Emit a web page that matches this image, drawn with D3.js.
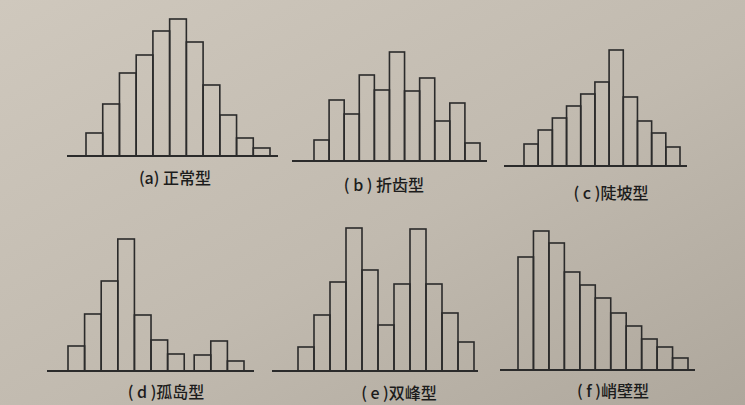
<!DOCTYPE html>
<html>
<head>
<meta charset="utf-8">
<script src="https://cdn.jsdelivr.net/npm/d3@7"></script>
<style>
    body { margin: 0; background: #c4bdb2; }
    svg { display: block; }
    .label { font-family: "Noto Sans CJK SC", sans-serif; font-size: 16px; font-weight: 500; fill: #1c1c1c; }
</style>
</head>
<body>
<div id="chart"></div>
<script>
// six typical histogram shapes (frequency per class)

let titles = ["(a) 正常型", "( b )  折齿型", "( c )陡坡型", "( d )孤岛型", "( e )双峰型", "( f )峭壁型"];

let normalVals  = [23, 52, 83, 101, 125, 137, 114, 71, 41, 18, 8];
let toothVals   = [21, 61, 47, 86, 71, 109, 70, 83, 40, 58, 18];
let slopeVals   = [22, 36, 48, 60, 72, 84, 116, 69, 45, 33, 19];
let islandVals  = [25, 57, 90, 132, 56, 31, 17, 16, 30, 10];
let twinVals    = [24, 56, 89, 143, 101, 46, 87, 142, 87, 58, 29];
let cliffVals   = [113, 139, 127, 98, 85, 72, 57, 44, 31, 23, 12];

// class lower bounds (island group sits a bit apart from main group)
let islandBins  = [0, 1, 2, 3, 4, 5, 6, 7.6, 8.6, 9.6];

let width = 745, height = 405;

let svg = d3.select("#chart").append("svg")
    .attr("width", width)
    .attr("height", height);

// paper background, photo is lighter top-left and darker towards bottom-right
let grad = svg.append("defs").append("linearGradient")
    .attr("id", "paper")
    .attr("x1", "0").attr("y1", "0")
    .attr("x2", "1").attr("y2", "1");
grad.append("stop").attr("offset", "0%").attr("stop-color", "#cfc8bd");
grad.append("stop").attr("offset", "55%").attr("stop-color", "#c1baaf");
grad.append("stop").attr("offset", "100%").attr("stop-color", "#aea79c");

svg.append("rect")
    .attr("width", width)
    .attr("height", height)
    .attr("fill", "url(#paper)");

// layout of each small histogram
let panels = [
    {vals: normalVals, bins: null, bar: [86, 270],  axis: [67, 278],  base: 156, lx: 175, ly: 184},
    {vals: toothVals,  bins: null, bar: [314, 480], axis: [292, 487], base: 161, lx: 384, ly: 191},
    {vals: slopeVals,  bins: null, bar: [524, 680], axis: [504, 687], base: 166, lx: 611, ly: 199},
    {vals: islandVals, bins: islandBins, bar: [68, 244], axis: [47, 254], base: 371, lx: 166, ly: 398},
    {vals: twinVals,   bins: null, bar: [298, 474], axis: [272, 478], base: 371, lx: 399, ly: 399},
    {vals: cliffVals,  bins: null, bar: [518, 688], axis: [500, 695], base: 370, lx: 613, ly: 397}
];

panels.forEach((p, i) => {
    let bins = p.bins || d3.range(p.vals.length);
    let data = p.vals.map((v, j) => ({x0: bins[j], x1: bins[j] + 1, count: v}));

    let x = d3.scaleLinear()
        .domain([0, d3.max(data, d => d.x1)])
        .range(p.bar);

    let y = d3.scaleLinear()
        .domain([0, 150])
        .range([p.base, p.base - 150]);

    let g = svg.append("g").attr("class", "panel");

    g.selectAll("rect")
        .data(data)
        .enter().append("rect")
        .attr("x", d => x(d.x0))
        .attr("width", d => x(d.x1) - x(d.x0))
        .attr("y", d => y(d.count))
        .attr("height", d => y(0) - y(d.count))
        .attr("fill", "none")
        .attr("stroke", "#2b2b2b")
        .attr("stroke-width", 1.6);

    // base line
    g.append("line")
        .attr("x1", p.axis[0])
        .attr("x2", p.axis[1])
        .attr("y1", y(0))
        .attr("y2", y(0))
        .attr("stroke", "#2b2b2b")
        .attr("stroke-width", 1.8);

    g.append("text")
        .attr("class", "label")
        .attr("x", p.lx)
        .attr("y", p.ly)
        .attr("text-anchor", "middle")
        .text(titles[i]);
});
</script>
</body>
</html>
